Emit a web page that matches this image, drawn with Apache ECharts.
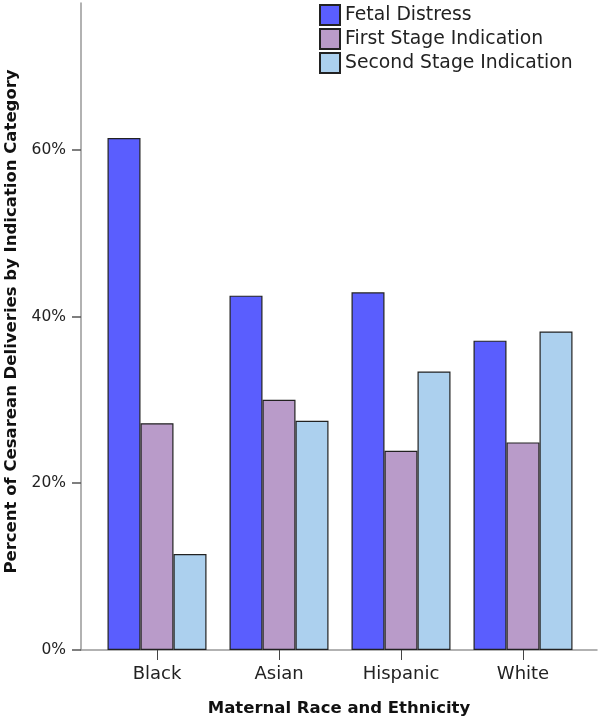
<!DOCTYPE html>
<html>
<head>
<meta charset="utf-8">
<script src="https://cdn.jsdelivr.net/npm/echarts@6/dist/echarts.min.js"></script>
<style>html,body{margin:0;padding:0;background:#fff}#c{width:600px;height:722px}</style>
</head>
<body>
<div id="c"></div>
<script>
const categories = ['Black', 'Asian', 'Hispanic', 'White'];
const seriesNames = ['Fetal Distress', 'First Stage Indication', 'Second Stage Indication'];
const fetalDistress = [61.4, 42.5, 42.9, 37.1];
const firstStage = [27.2, 30.0, 23.9, 24.9];
const secondStage = [11.5, 27.5, 33.4, 38.2];
const yTicks = [0, 20, 40, 60];
const colors = ['#5a5efe', '#b99bc9', '#acd0ee'];

const font = 'DejaVu Sans';
const chart = echarts.init(document.getElementById('c'));
const values = [fetalDistress, firstStage, secondStage];
chart.setOption({
  animation: false,
  textStyle: { fontFamily: font },
  legend: {
    orient: 'vertical', left: 319, top: 4, padding: 0,
    itemWidth: 20, itemHeight: 20, itemGap: 2,
    icon: 'rect',
    textStyle: { fontSize: 18.8, color: '#222', fontFamily: font },
    data: seriesNames
  },
  grid: [
    { left: 96, right: 16, top: 3, bottom: 72, outerBoundsMode: 'none', containLabel: false },
    { left: 81, right: 3, top: 3, bottom: 72, outerBoundsMode: 'none', containLabel: false }
  ],
  xAxis: [
    {
      type: 'category', gridIndex: 0, data: categories,
      axisLine: { show: false },
      axisTick: { show: true, alignWithLabel: true, length: 10, lineStyle: { color: '#444' } },
      axisLabel: { fontSize: 18, color: '#222', margin: 15 }
    },
    {
      type: 'category', gridIndex: 1, data: categories,
      axisLine: { show: true, lineStyle: { color: '#999', width: 1.5 } },
      axisTick: { show: false }, axisLabel: { show: false },
      name: 'Maternal Race and Ethnicity', nameLocation: 'middle', nameGap: 50,
      nameTextStyle: { fontSize: 16.5, fontWeight: 'bold', color: '#111' }
    }
  ],
  yAxis: [
    {
      type: 'value', gridIndex: 0, min: 0, max: 77.6, interval: 20, offset: 15,
      axisLine: { show: true, lineStyle: { color: '#999', width: 1.5 } },
      axisTick: { show: true, length: 9, lineStyle: { color: '#555', width: 1.5 } },
      axisLabel: { fontSize: 15.5, color: '#222', margin: 15, showMaxLabel: false,
        formatter: v => yTicks.includes(v) ? v + '%' : '' },
      splitLine: { show: false },
      name: 'Percent of Cesarean Deliveries by Indication Category',
      nameLocation: 'middle', nameGap: 61, nameRotate: 90,
      nameTextStyle: { fontSize: 16.5, fontWeight: 'bold', color: '#111', padding: [0, 0, 0, 10] }
    },
    { type: 'value', gridIndex: 1, min: 0, max: 77.6, show: false }
  ],
  series: seriesNames.map((n, i) => ({
    name: n, type: 'bar', xAxisIndex: 0, yAxisIndex: 0,
    data: values[i], barWidth: 33, barGap: '0%',
    itemStyle: { color: colors[i], borderColor: '#222', borderWidth: 1.2 }
  }))
});
</script>
</body>
</html>
